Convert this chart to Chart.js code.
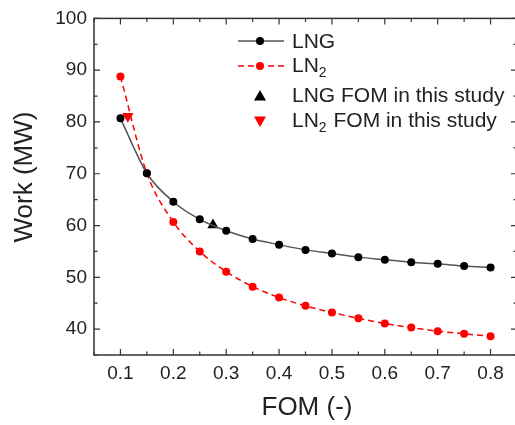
<!DOCTYPE html>
<html>
<head>
<meta charset="utf-8">
<script src="https://cdn.jsdelivr.net/npm/chart.js@4/dist/chart.umd.min.js"></script>
<style>
html, body { margin: 0; padding: 0; overflow: hidden; background: #fff; }
#wrap { width: 530px; height: 425px; position: relative; }
</style>
</head>
<body>
<div id="wrap"><canvas id="myChart"></canvas></div>
<script>
// data
var fom = [0.1, 0.15, 0.2, 0.25, 0.3, 0.35, 0.4, 0.45, 0.5, 0.55, 0.6, 0.65, 0.7, 0.75, 0.8];
var lngWork = [80.7, 70.1, 64.6, 61.2, 59.0, 57.4, 56.3, 55.3, 54.6, 53.9, 53.4, 52.9, 52.6, 52.2, 51.9];
var ln2Work = [88.8, 70.1, 60.7, 55.0, 51.1, 48.2, 46.1, 44.5, 43.2, 42.1, 41.1, 40.3, 39.6, 39.1, 38.6];
var lngStudyFom = [0.275];
var lngStudyWork = [60.1];
var ln2StudyFom = [0.114];
var ln2StudyWork = [81.1];
var xTicks = [0.1, 0.2, 0.3, 0.4, 0.5, 0.6, 0.7, 0.8];
var yTicks = [40, 50, 60, 70, 80, 90, 100];

var FONT = '"Liberation Sans", Arial, sans-serif';
var TXT = '#222';

function pts(xs, ys) {
    var out = [];
    for (var i = 0; i < xs.length; i++) {
        out.push({x: xs[i], y: ys[i]});
    }
    return out;
}

// box frame + inward ticks (major and minor) on all four sides
var frame = {
    id: 'frame',
    beforeDatasetsDraw: function(chart) {
        var ctx = chart.ctx, a = chart.chartArea;
        var xs = chart.scales.x, ys = chart.scales.y;
        ctx.save();
        ctx.strokeStyle = '#333';
        ctx.lineWidth = 1.5;
        ctx.strokeRect(a.left, a.top, a.right - a.left, a.bottom - a.top);
        ctx.lineWidth = 1.2;
        ctx.beginPath();
        for (var v = 0.05; v <= 0.851; v += 0.05) {
            var px = xs.getPixelForValue(v);
            var major = Math.abs(v * 10 - Math.round(v * 10)) < 0.01;
            var len = major ? 6 : 3.5;
            ctx.moveTo(px, a.bottom); ctx.lineTo(px, a.bottom - len);
            ctx.moveTo(px, a.top); ctx.lineTo(px, a.top + len);
        }
        for (var w = 35; w <= 100; w += 5) {
            var py = ys.getPixelForValue(w);
            var len2 = (w % 10 === 0) ? 6 : 3.5;
            ctx.moveTo(a.left, py); ctx.lineTo(a.left + len2, py);
            ctx.moveTo(a.right, py); ctx.lineTo(a.right - len2, py);
        }
        ctx.stroke();
        ctx.restore();
    }
};

function drawMarker(ctx, kind, x, y, color) {
    ctx.fillStyle = color;
    ctx.beginPath();
    if (kind === 'circle') {
        ctx.arc(x, y, 4, 0, Math.PI * 2);
    } else if (kind === 'up') {
        ctx.moveTo(x, y - 6); ctx.lineTo(x + 6, y + 4.5); ctx.lineTo(x - 6, y + 4.5);
    } else {
        ctx.moveTo(x, y + 6); ctx.lineTo(x + 6, y - 4.5); ctx.lineTo(x - 6, y - 4.5);
    }
    ctx.closePath();
    ctx.fill();
}

function drawLabel(ctx, x, y, main, rest) {
    // main text, optional subscript 2, then rest
    ctx.font = '21px ' + FONT;
    ctx.fillStyle = TXT;
    ctx.textBaseline = 'middle';
    ctx.textAlign = 'left';
    ctx.fillText(main, x, y);
    if (rest === undefined) return;
    var w = ctx.measureText(main).width;
    ctx.font = '14px ' + FONT;
    ctx.fillText('2', x + w, y + 7);
    var w2 = ctx.measureText('2').width;
    ctx.font = '21px ' + FONT;
    ctx.fillText(rest, x + w + w2 + 1, y);
}

var legendBox = {
    id: 'legendBox',
    afterDraw: function(chart) {
        var ctx = chart.ctx;
        ctx.save();
        // LNG
        ctx.strokeStyle = '#555'; ctx.lineWidth = 1.5; ctx.setLineDash([]);
        ctx.beginPath(); ctx.moveTo(238, 41); ctx.lineTo(284, 41); ctx.stroke();
        drawMarker(ctx, 'circle', 260, 41, '#000');
        drawLabel(ctx, 292, 42, 'LNG');
        // LN2
        ctx.strokeStyle = '#f00'; ctx.setLineDash([6, 4]);
        ctx.beginPath(); ctx.moveTo(238, 66); ctx.lineTo(284, 66); ctx.stroke();
        ctx.setLineDash([]);
        drawMarker(ctx, 'circle', 260, 66, '#f00');
        drawLabel(ctx, 292, 66, 'LN', '');
        // study points
        drawMarker(ctx, 'up', 260, 96, '#000');
        drawLabel(ctx, 292, 96, 'LNG FOM in this study');
        drawMarker(ctx, 'down', 260, 121, '#f00');
        drawLabel(ctx, 292, 121, 'LN', ' FOM in this study');

        // axis titles
        ctx.fillStyle = TXT;
        ctx.font = '26px ' + FONT;
        ctx.textAlign = 'center';
        ctx.textBaseline = 'middle';
        ctx.fillText('FOM (-)', 307, 408);
        ctx.translate(25, 177);
        ctx.rotate(-Math.PI / 2);
        ctx.fillText('Work (MW)', 0, 0);
        ctx.restore();
    }
};

var myChart = document.getElementById('myChart').getContext('2d');
var chart = new Chart(myChart, {
    type: 'scatter',
    data: {
        datasets: [{
            label: 'LNG',
            data: pts(fom, lngWork),
            showLine: true,
            borderColor: '#555',
            borderWidth: 1.5,
            backgroundColor: '#000',
            pointBackgroundColor: '#000',
            pointBorderWidth: 0,
            pointRadius: 4,
            cubicInterpolationMode: 'monotone'
        }, {
            label: 'LN2',
            data: pts(fom, ln2Work),
            showLine: true,
            borderColor: '#f00',
            borderWidth: 1.5,
            borderDash: [6, 4],
            pointBackgroundColor: '#f00',
            pointBorderWidth: 0,
            pointRadius: 4,
            cubicInterpolationMode: 'monotone'
        }, {
            label: 'LNG FOM in this study',
            data: pts(lngStudyFom, lngStudyWork),
            pointStyle: 'triangle',
            pointRadius: 6.5,
            pointBackgroundColor: '#000',
            pointBorderWidth: 0
        }, {
            label: 'LN2 FOM in this study',
            data: pts(ln2StudyFom, ln2StudyWork),
            pointStyle: 'triangle',
            rotation: 180,
            pointRadius: 6.5,
            pointBackgroundColor: '#f00',
            pointBorderWidth: 0
        }]
    },
    options: {
        responsive: true,
        maintainAspectRatio: false,
        animation: false,
        layout: { padding: { top: 14, right: 13, left: 0, bottom: 0 } },
        plugins: {
            legend: { display: false },
            tooltip: { enabled: false }
        },
        scales: {
            x: {
                type: 'linear',
                min: 0.05,
                max: 0.85,
                grid: { display: false, drawTicks: false },
                border: { display: false },
                afterBuildTicks: function(axis) {
                    axis.ticks = xTicks.map(function(v) { return {value: v}; });
                },
                afterFit: function(axis) { axis.height = 70; },
                ticks: {
                    padding: 7,
                    color: TXT,
                    font: { family: FONT, size: 19 },
                    maxRotation: 0,
                    autoSkip: false,
                    callback: function(v) { return v.toFixed(1); }
                }
            },
            y: {
                min: 35,
                max: 100,
                grid: { display: false, drawTicks: false },
                border: { display: false },
                afterBuildTicks: function(axis) {
                    axis.ticks = yTicks.map(function(v) { return {value: v}; });
                },
                afterFit: function(axis) { axis.width = 94; },
                ticks: {
                    padding: 7,
                    color: TXT,
                    font: { family: FONT, size: 19 },
                    autoSkip: false
                }
            }
        }
    },
    plugins: [frame, legendBox]
});
</script>
</body>
</html>
